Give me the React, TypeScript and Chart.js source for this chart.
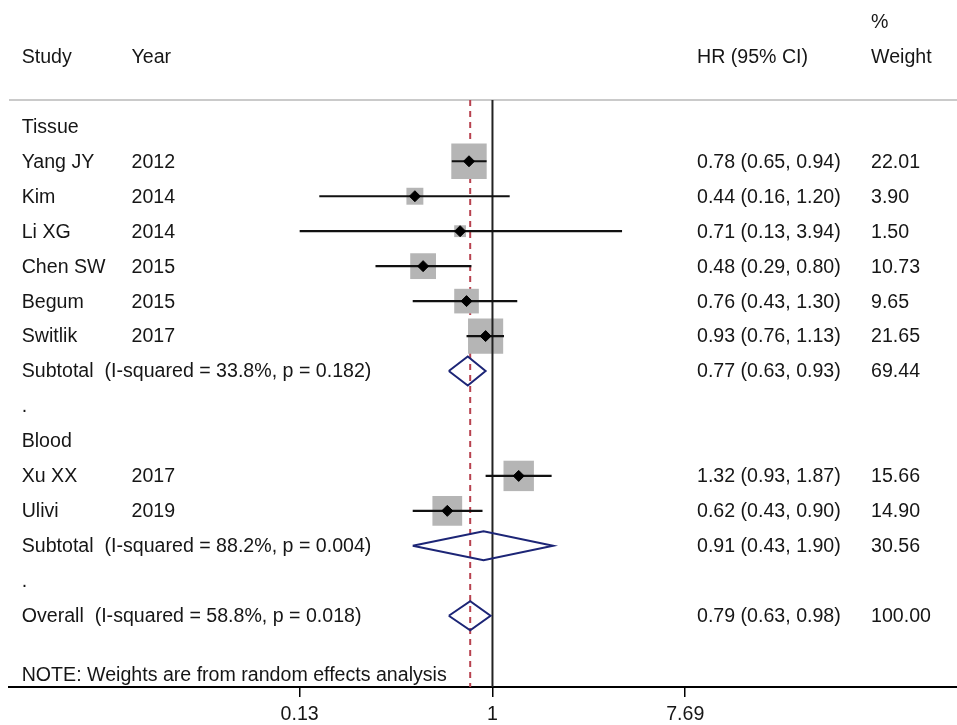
import React, { useEffect, useRef } from "react";
import { Chart, registerables } from "chart.js";

Chart.register(...registerables);

// ---------- data ----------
const STUDIES = ["Yang JY", "Kim", "Li XG", "Chen SW", "Begum", "Switlik", "Xu XX", "Ulivi"];
const YEARS = ["2012", "2014", "2014", "2015", "2015", "2017", "2017", "2019"];
const HR = [0.78, 0.44, 0.71, 0.48, 0.76, 0.93, 1.32, 0.62];
const LOWER = [0.65, 0.16, 0.13, 0.29, 0.43, 0.76, 0.93, 0.43];
const UPPER = [0.94, 1.2, 3.94, 0.8, 1.3, 1.13, 1.87, 0.9];
const WEIGHTS = [22.01, 3.9, 1.5, 10.73, 9.65, 21.65, 15.66, 14.9];
const STUDY_ROWS = [1, 2, 3, 4, 5, 6, 10, 11];

const SUMMARY_LABELS = [
  "Subtotal  (I-squared = 33.8%, p = 0.182)",
  "Subtotal  (I-squared = 88.2%, p = 0.004)",
  "Overall  (I-squared = 58.8%, p = 0.018)",
];
const SUMMARY_HR = [0.77, 0.91, 0.79];
const SUMMARY_LOWER = [0.63, 0.43, 0.63];
const SUMMARY_UPPER = [0.93, 1.9, 0.98];
const SUMMARY_WEIGHTS = [69.44, 30.56, 100.0];
const SUMMARY_ROWS = [7, 12, 14];

const GROUPS = ["Tissue", "Blood"];
const GROUP_ROWS = [0, 9];
const SPACER_ROWS = [8, 13];

const OVERALL_HR = 0.79;
const NULL_VALUE = 1;

const X_TICKS = [0.13, 1, 7.69];
const X_TICK_LABELS = ["0.13", "1", "7.69"];

const NOTE_TEXT = "NOTE: Weights are from random effects analysis";

// ---------- layout ----------
const W = 957;
const H = 725;
const X_MIN = 0.006;
const X_MAX = 136.4;
const Y_MIN = -3.613;
const Y_MAX = 16.038;
const PERCENT_ROW = -3;
const HEADER_ROW = -2;
const SEPARATOR_ROW = -0.753;
const NOTE_ROW = 15.67;
const DIAMOND_HALF = 0.415;
const TEXT_DY = 1;

const COL_STUDY = 21.7;
const COL_YEAR = 131.5;
const COL_HR = 697;
const COL_WEIGHT = 871;

const FONT = '19.6px "Liberation Sans", Arial, sans-serif';
const TEXT_COLOR = "#161616";
const NAVY = "#1c2576";
const RED = "#b8424f";
const GRAY = "#b5b5b5";

const fmt = (v: number) => v.toFixed(2);

const textPlugin = {
  id: "forestText",
  afterDraw(chart: any) {
    const ctx = chart.ctx;
    const y = chart.scales.y;
    const put = (t: string, x: number, row: number) =>
      ctx.fillText(t, x, y.getPixelForValue(row) + TEXT_DY);
    ctx.save();
    ctx.font = FONT;
    ctx.fillStyle = TEXT_COLOR;
    ctx.textBaseline = "middle";
    ctx.textAlign = "left";
    put("%", COL_WEIGHT, PERCENT_ROW);
    put("Study", COL_STUDY, HEADER_ROW);
    put("Year", COL_YEAR, HEADER_ROW);
    put("HR (95% CI)", COL_HR, HEADER_ROW);
    put("Weight", COL_WEIGHT, HEADER_ROW);
    GROUPS.forEach((g, i) => put(g, COL_STUDY, GROUP_ROWS[i]));
    SPACER_ROWS.forEach((r) => put(".", COL_STUDY, r));
    STUDIES.forEach((s, i) => {
      const r = STUDY_ROWS[i];
      put(s, COL_STUDY, r);
      put(YEARS[i], COL_YEAR, r);
      put(`${fmt(HR[i])} (${fmt(LOWER[i])}, ${fmt(UPPER[i])})`, COL_HR, r);
      put(fmt(WEIGHTS[i]), COL_WEIGHT, r);
    });
    SUMMARY_LABELS.forEach((s, i) => {
      const r = SUMMARY_ROWS[i];
      put(s, COL_STUDY, r);
      put(`${fmt(SUMMARY_HR[i])} (${fmt(SUMMARY_LOWER[i])}, ${fmt(SUMMARY_UPPER[i])})`, COL_HR, r);
      put(fmt(SUMMARY_WEIGHTS[i]), COL_WEIGHT, r);
    });
    put(NOTE_TEXT, COL_STUDY, NOTE_ROW);
    ctx.restore();
  },
};

function buildDatasets() {
  const ds: any[] = [];
  // separator line
  ds.push({
    data: [{ x: X_MIN, y: SEPARATOR_ROW }, { x: X_MAX, y: SEPARATOR_ROW }],
    showLine: true, borderColor: "#cacaca", borderWidth: 2, pointRadius: 0, order: 12,
  });
  // overall dashed line (behind the squares)
  ds.push({
    data: [{ x: OVERALL_HR, y: SEPARATOR_ROW }, { x: OVERALL_HR, y: Y_MAX }],
    showLine: true, borderColor: RED, borderWidth: 2, borderDash: [6, 5], pointRadius: 0, order: 11,
  });
  // weight squares
  ds.push({
    data: HR.map((v, i) => ({ x: v, y: STUDY_ROWS[i] })),
    showLine: false,
    pointStyle: "rect",
    pointRadius: WEIGHTS.map((w) => (3.5 + 6.8 * Math.sqrt(w)) / Math.SQRT2),
    backgroundColor: GRAY,
    borderColor: GRAY,
    borderWidth: 0,
    order: 9,
  });
  // null line (over the squares)
  ds.push({
    data: [{ x: NULL_VALUE, y: SEPARATOR_ROW }, { x: NULL_VALUE, y: Y_MAX }],
    showLine: true, borderColor: "#222", borderWidth: 2, pointRadius: 0, order: 8,
  });
  // CI lines
  HR.forEach((_, i) => {
    ds.push({
      data: [{ x: LOWER[i], y: STUDY_ROWS[i] }, { x: UPPER[i], y: STUDY_ROWS[i] }],
      showLine: true, borderColor: "#111", borderWidth: 2.2, pointRadius: 0, order: 6,
    });
  });
  // point markers
  ds.push({
    data: HR.map((v, i) => ({ x: v, y: STUDY_ROWS[i] })),
    showLine: false, pointStyle: "rectRot", pointRadius: 5.5,
    backgroundColor: "#000", borderColor: "#000", borderWidth: 1, order: 5,
  });
  // summary diamonds
  SUMMARY_HR.forEach((v, i) => {
    const r = SUMMARY_ROWS[i];
    ds.push({
      data: [
        { x: SUMMARY_LOWER[i], y: r },
        { x: v, y: r - DIAMOND_HALF },
        { x: SUMMARY_UPPER[i], y: r },
        { x: v, y: r + DIAMOND_HALF },
        { x: SUMMARY_LOWER[i], y: r },
      ],
      showLine: true, borderColor: NAVY, borderWidth: 2, pointRadius: 0,
      fill: false, tension: 0, borderJoinStyle: "miter", order: 4,
    });
  });
  return ds;
}

export default function App() {
  const ref = useRef<HTMLCanvasElement>(null);
  useEffect(() => {
    document.body.style.margin = "0";
    const chart = new Chart(ref.current as HTMLCanvasElement, {
      type: "scatter",
      data: { datasets: buildDatasets() },
      options: {
        animation: false,
        responsive: false,
        devicePixelRatio: 1,
        layout: { autoPadding: false, padding: { left: 9, right: 0, top: 0, bottom: 0 } },
        plugins: { legend: { display: false }, tooltip: { enabled: false } },
        events: [],
        scales: {
          x: {
            type: "logarithmic",
            position: "bottom",
            min: X_MIN,
            max: X_MAX,
            afterBuildTicks: (scale: any) => {
              scale.ticks = X_TICKS.map((v) => ({ value: v }));
            },
            afterFit: (scale: any) => {
              scale.height = 38;
            },
            ticks: {
              autoSkip: false,
              maxRotation: 0,
              padding: 6,
              color: TEXT_COLOR,
              font: { family: '"Liberation Sans", Arial, sans-serif', size: 19.6 },
              callback: (_v: any, i: number) => X_TICK_LABELS[i],
            },
            grid: {
              display: true,
              drawOnChartArea: false,
              drawTicks: true,
              tickLength: 10,
              color: "#000",
              lineWidth: 1.5,
            },
            border: { display: true, color: "#000", width: 2 },
          },
          y: {
            type: "linear",
            display: false,
            reverse: true,
            min: Y_MIN,
            max: Y_MAX,
          },
        },
      } as any,
      plugins: [textPlugin],
    });
    return () => chart.destroy();
  }, []);
  return (
    <div style={{ position: "absolute", left: 0, top: 0, width: W, height: H, background: "#fff" }}>
      <canvas ref={ref} width={W} height={H} style={{ display: "block", width: W, height: H }} />
    </div>
  );
}
